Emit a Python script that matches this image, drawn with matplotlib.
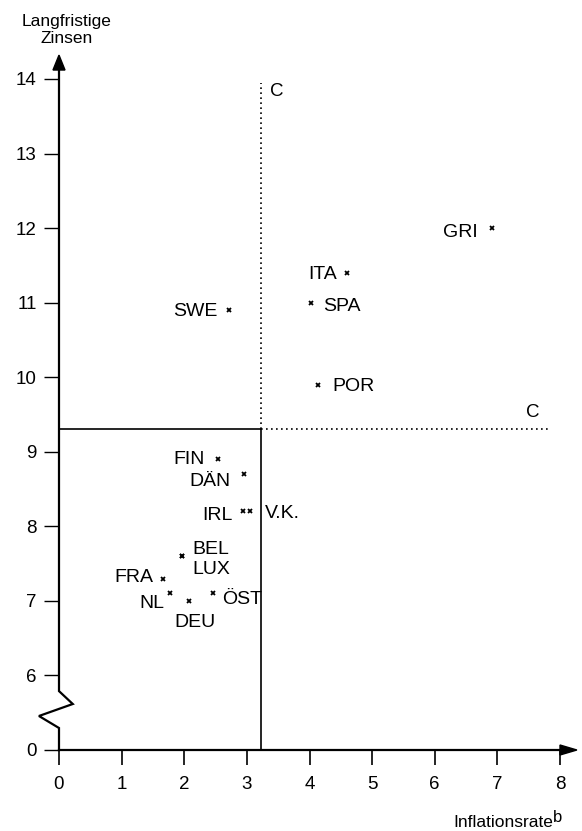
import numpy as np
import matplotlib.pyplot as plt

plt.rcParams['font.family'] = ['Liberation Sans', 'DejaVu Sans']

# Laender: Inflationsrate (x) und langfristige Zinsen (y)
laender = ['GRI', 'ITA', 'SPA', 'POR', 'SWE', 'FIN', 'DÄN', 'IRL', 'V.K.',
           'BEL', 'LUX', 'FRA', 'NL', 'DEU', 'ÖST']
inflation = [6.91, 4.60, 4.02, 4.14, 2.71, 2.54, 2.95, 2.94, 3.05,
             1.96, 1.96, 1.66, 1.77, 2.08, 2.46]
zinsen = [12.0, 11.4, 11.0, 9.9, 10.9, 8.9, 8.7, 8.2, 8.2,
          7.6, 7.6, 7.3, 7.1, 7.0, 7.1]

# Konvergenzkriterien
krit_inflation = 3.23
krit_zinsen = 9.3

x_ticks = [0, 1, 2, 3, 4, 5, 6, 7, 8]
y_ticks = [0, 6, 7, 8, 9, 10, 11, 12, 13, 14]

# label placement: (dx, dy) in pixels, alignment
offsets = {
    'GRI': (-14, -8.5, 'right'), 'ITA': (-10, -6.5, 'right'),
    'SPA': (12, -8.5, 'left'), 'POR': (14, -6.5, 'left'),
    'SWE': (-11, -5.5, 'right'), 'FIN': (-13, -4.5, 'right'),
    'DÄN': (-13, -11.5, 'right'), 'IRL': (-10, -8.5, 'right'),
    'V.K.': (15, -6.5, 'left'), 'BEL': (11, 2.5, 'left'),
    'LUX': (11, -17.5, 'left'), 'FRA': (-10, -3.5, 'right'),
    'NL': (-5, -14.5, 'right'), 'DEU': (6, -26.5, 'center'),
    'ÖST': (9, -10.5, 'left'),
}


def ypos(v):
    # axis break: 0 sits one unit below 6
    return v if v >= 6 else 5


fig = plt.figure(figsize=(5.82, 8.31), dpi=100)
ax = fig.add_axes([59/582, 81/831, 501/582, 693.4/831])
ax.set_xlim(0, 8)
ax.set_ylim(5, 14.3)

for s in ['top', 'right', 'left']:
    ax.spines[s].set_visible(False)
ax.spines['bottom'].set_linewidth(1.6)

ax.set_xticks(x_ticks, [str(t) for t in x_ticks])
ax.set_yticks([ypos(t) for t in y_ticks], [str(t) for t in y_ticks])
ax.tick_params(axis='x', direction='out', length=11, width=1.2, pad=8, labelsize=13.5)
ax.tick_params(axis='y', direction='out', length=11, width=1.0, pad=5, labelsize=13.5)

# y axis with break zigzag
ax.plot([0, 0, -0.32, 0.22, 0, 0], [5, 5.295, 5.456, 5.617, 5.79, 14.12],
        color='black', lw=1.6, clip_on=False, solid_joinstyle='miter')
ax.fill([-0.096, 0.096, 0], [14.12, 14.12, 14.32], color='black', clip_on=False)
ax.fill([8, 8, 8.27], [5.067, 4.933, 5], color='black', clip_on=False)

# criteria lines
ax.plot([0, krit_inflation, krit_inflation], [krit_zinsen, krit_zinsen, 5],
        color='black', lw=1.2, clip_on=False)
ax.plot([krit_inflation, krit_inflation], [krit_zinsen, 13.95],
        color='black', lw=1.2, linestyle=(0, (1, 2)))
ax.plot([krit_inflation, 7.84], [krit_zinsen, krit_zinsen],
        color='black', lw=1.2, linestyle=(0, (1, 2)))
ax.text(3.48, 13.83, 'C', fontsize=13.5, ha='center', va='center')
ax.text(7.57, 9.53, 'C', fontsize=13.5, ha='center', va='center')

ax.plot(inflation, [ypos(v) for v in zinsen], 'x', color='black', ms=3.5, mew=1.3)
for name, x, y in zip(laender, inflation, zinsen):
    dx, dy, ha = offsets[name]
    ax.annotate(name, (x, ypos(y)), xytext=(dx, dy), textcoords='offset pixels',
                ha=ha, va='baseline', fontsize=14)

fig.text(67/582, 1 - 30/831, 'Langfristige\nZinsen', ha='center', va='center',
         fontsize=12.5, linespacing=1.15)
fig.text(553/582, 1 - 827/831, 'Inflationsrate', ha='right', va='baseline', fontsize=12.5)
fig.text(553/582, 1 - 810/831, 'b', ha='left', va='top', fontsize=12)

fig.savefig('out.png', dpi=100)
